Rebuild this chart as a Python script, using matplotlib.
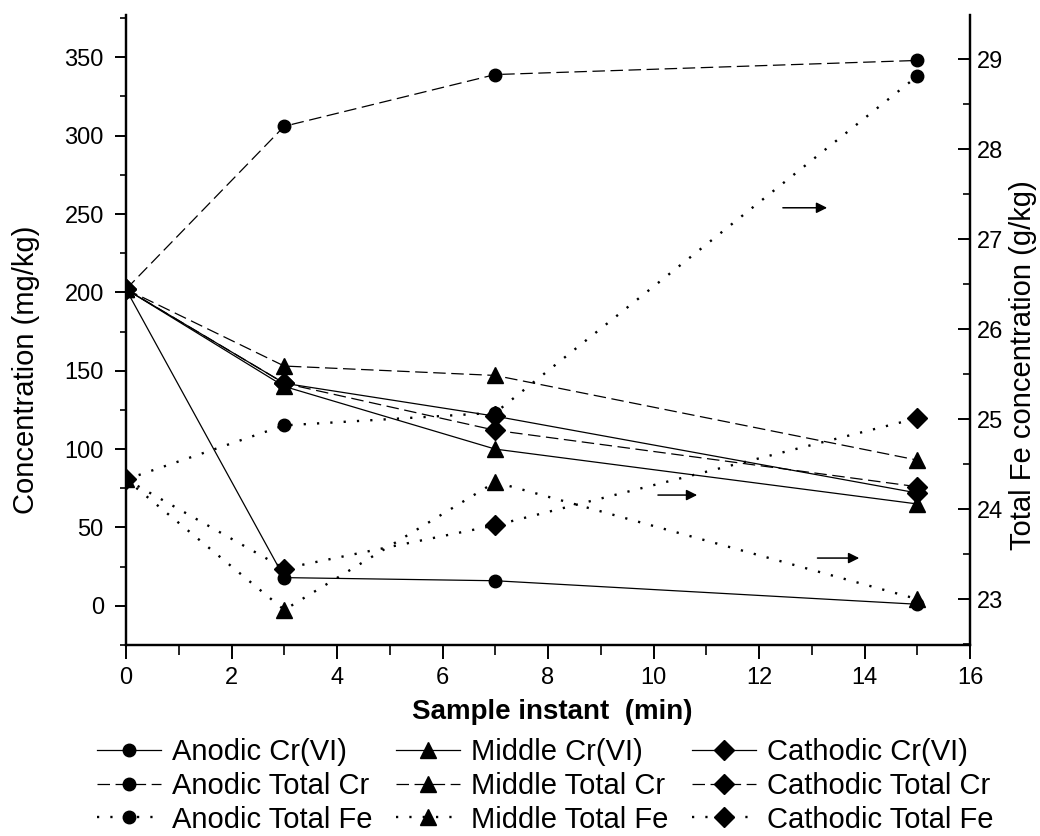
import matplotlib
matplotlib.use("Agg")
from matplotlib import pyplot as plt
from matplotlib.ticker import MultipleLocator
import numpy as np

plt.rcParams['font.family'] = ['Liberation Sans', 'DejaVu Sans']
plt.rcParams['lines.scale_dashes'] = False

# sample instants (min)
t = [0, 3, 7, 15]

# Cr concentrations (mg/kg), left axis
anodic_cr6 = [202, 18, 16, 1]
middle_cr6 = [202, 140, 100, 65]
cathodic_cr6 = [202, 142, 121, 72]
anodic_totcr = [202, 306, 339, 348]
middle_totcr = [202, 153, 147, 93]
cathodic_totcr = [202, 142, 112, 76]

# total Fe (g/kg), right axis
anodic_fe = [24.33, 24.93, 25.07, 28.81]
middle_fe = [24.33, 22.88, 24.30, 23.00]
cathodic_fe = [24.33, 23.34, 23.82, 25.01]

fig = plt.figure(figsize=(10.4, 8.36), dpi=100)
ax = fig.add_axes([126/1040, 1 - 645/836, 844/1040, 630/836])
ax2 = ax.twinx()

solid = '-'
dash = (0, (9, 4))
dot = (0, (1.6, 8))
lw = 0.9

style = dict(color='black', markeredgecolor='black', markerfacecolor='black')
l1, = ax.plot(t, anodic_cr6, linestyle=solid, lw=lw, marker='o', ms=9, label='Anodic Cr(VI)', **style)
l2, = ax.plot(t, middle_cr6, linestyle=solid, lw=lw, marker='^', ms=11, label='Middle Cr(VI)', **style)
l3, = ax.plot(t, cathodic_cr6, linestyle=solid, lw=lw, marker='D', ms=10, label='Cathodic Cr(VI)', **style)
l4, = ax.plot(t, anodic_totcr, linestyle=dash, lw=lw, marker='o', ms=9, label='Anodic Total Cr', **style)
l5, = ax.plot(t, middle_totcr, linestyle=dash, lw=lw, marker='^', ms=11, label='Middle Total Cr', **style)
l6, = ax.plot(t, cathodic_totcr, linestyle=dash, lw=lw, marker='D', ms=10, label='Cathodic Total Cr', **style)
l7, = ax2.plot(t, anodic_fe, linestyle=dot, lw=1.7, marker='o', ms=9, label='Anodic Total Fe', **style)
l8, = ax2.plot(t, middle_fe, linestyle=dot, lw=1.7, marker='^', ms=11, label='Middle Total Fe', **style)
l9, = ax2.plot(t, cathodic_fe, linestyle=dot, lw=1.7, marker='D', ms=10, label='Cathodic Total Fe', **style)

ax.set_xlim(0, 16)
ax.set_ylim(-25, 377)
ax2.set_ylim(22.49, 29.49)

ax.xaxis.set_major_locator(MultipleLocator(2))
ax.xaxis.set_minor_locator(MultipleLocator(1))
ax.yaxis.set_major_locator(MultipleLocator(50))
ax.yaxis.set_minor_locator(MultipleLocator(25))
ax2.yaxis.set_major_locator(MultipleLocator(1))
ax2.yaxis.set_minor_locator(MultipleLocator(0.5))
ax.set_yticks(np.arange(0, 351, 50))

for a in (ax, ax2):
    a.spines['top'].set_visible(False)
    for s in a.spines.values():
        s.set_linewidth(1.6)

ax.tick_params(axis='y', which='major', direction='out', length=8, width=1.4, labelsize=17, pad=8)
ax.tick_params(axis='y', which='minor', direction='out', length=4, width=1.2)
ax.tick_params(axis='x', which='major', direction='out', length=10, width=1.4, labelsize=17, pad=6)
ax.tick_params(axis='x', which='minor', direction='out', length=7, width=1.2)
ax2.tick_params(axis='y', which='major', direction='in', length=9, width=1.4, labelsize=17, pad=5)
ax2.tick_params(axis='y', which='minor', direction='in', length=5, width=1.2)

ax.set_xlabel('Sample instant  (min)', fontsize=20, fontweight='bold')
ax.xaxis.set_label_coords(0.505, -0.085)
ax.set_ylabel('Concentration (mg/kg)', fontsize=21)
ax.yaxis.set_label_coords(-0.102, 0.4365)
ax2.set_ylabel('Total Fe concentration (g/kg)', fontsize=21)
ax2.yaxis.set_label_coords(1.046, 0.445)

# arrows pointing at the right axis
for x0, x1, y in [(0.775, 0.834, 0.694), (0.627, 0.680, 0.238), (0.816, 0.872, 0.138)]:
    ax.annotate('', xy=(x1, y), xytext=(x0, y), xycoords='axes fraction',
                arrowprops=dict(arrowstyle='-|>', lw=1.1, color='black', mutation_scale=16))

handles = [l1, l4, l7, l2, l5, l8, l3, l6, l9]
fig.legend(handles=handles, labels=[h.get_label() for h in handles], loc='center',
           bbox_to_anchor=(0.524, 0.06), ncol=3, frameon=False, fontsize=21,
           handlelength=2.2, handletextpad=0.38, columnspacing=0.8, labelspacing=0.2,
           borderpad=0.1)

fig.savefig('out.png', dpi=100)
